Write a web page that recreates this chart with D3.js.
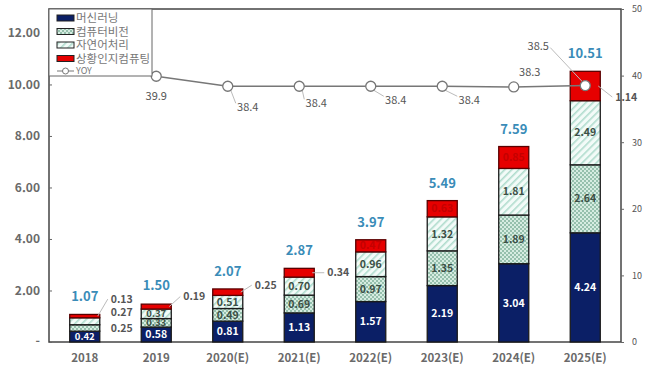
<!doctype html>
<html lang="ko">
<head>
<meta charset="UTF-8">
<title>AI market</title>
<script src="https://cdn.jsdelivr.net/npm/d3@7"></script>
<style>
	body { margin: 0; background: #fff; }
	text { font-family: "Noto Sans CJK KR", "Noto Sans", sans-serif; }
</style>
</head>
<body>
<div id="container"></div>
<script>
	var width = 649, height = 380;
	var margin = {left: 49, top: 9, right: 28, bottom: 38};
	var g_width = width - margin.left - margin.right;
	var g_height = height - margin.top - margin.bottom;

	// data
	var categories = ["2018", "2019", "2020(E)", "2021(E)", "2022(E)", "2023(E)", "2024(E)", "2025(E)"];
	var seriesNames = ["머신러닝", "컴퓨터비전", "자연어처리", "상황인지컴퓨팅"];
	var machine = [0.42, 0.58, 0.81, 1.13, 1.57, 2.19, 3.04, 4.24];
	var vision = [0.25, 0.33, 0.49, 0.69, 0.97, 1.35, 1.89, 2.64];
	var nlp = [0.27, 0.37, 0.51, 0.70, 0.96, 1.32, 1.81, 2.49];
	var context = [0.13, 0.19, 0.25, 0.34, 0.47, 0.63, 0.85, 1.14];
	var totals = [1.07, 1.50, 2.07, 2.87, 3.97, 5.49, 7.59, 10.51];
	var yoy = [null, 39.9, 38.4, 38.4, 38.4, 38.4, 38.3, 38.5];
	var leftTicks = [2, 4, 6, 8, 10, 12];
	var rightTicks = [0, 10, 20, 30, 40, 50];

	var series = [machine, vision, nlp, context];

	// labels placed outside bar: [series, category, dx, dy, leader]
	var outside = [
		[1, 0, 11, 0, false], [2, 0, 11, -9, false], [3, 0, 11, -17, true],
		[3, 1, 12, -10, true], [3, 2, 12, -7, true], [3, 3, 13, 0, true],
		[3, 7, 15, 11, true]
	];
	// yoy label offsets from point: dx, dy, leader
	var yoyOffsets = [null, [0, 20, false], [20, 21, true], [17, 17, true], [25, 14, true],
		[27, 14, true], [16, -15, false], [-47, -39, true]];

	var svg = d3.select("#container").append("svg")
		.attr("width", width).attr("height", height);

	var defs = svg.append("defs");
	var p1 = defs.append("pattern").attr("id", "pVision")
		.attr("width", 4).attr("height", 4).attr("patternUnits", "userSpaceOnUse");
	p1.append("rect").attr("width", 4).attr("height", 4).attr("fill", "#d6ece1");
	p1.append("path").attr("d", "M0,0L2,2L4,0M0,4L2,2L4,4")
		.attr("stroke", "#7aae96").attr("stroke-width", 0.7).attr("fill", "none");
	var p2 = defs.append("pattern").attr("id", "pNlp")
		.attr("width", 5).attr("height", 5).attr("patternUnits", "userSpaceOnUse")
		.attr("patternTransform", "rotate(45)");
	p2.append("rect").attr("width", 5).attr("height", 5).attr("fill", "#f3fbf8");
	p2.append("rect").attr("width", 1.6).attr("height", 5).attr("fill", "#b0dccd");

	var fills = ["#0b1f66", "url(#pVision)", "url(#pNlp)", "#e60000"];
	var labelColors = ["#ffffff", "#3c4f45", "#3c4f45", "#c40000"];

	var x = d3.scaleBand().domain(categories).range([0, g_width])
		.paddingInner(0.58).paddingOuter(0.29);
	var y = d3.scaleLinear().domain([0, 12.93]).range([g_height, 0]);
	var y2 = d3.scaleLinear().domain([0, 50]).range([g_height, 0]);

	var g = svg.append("g")
		.attr("transform", "translate(" + margin.left + "," + margin.top + ")");

	// frame
	g.append("rect").attr("width", g_width).attr("height", g_height)
		.attr("fill", "none").attr("stroke", "#444").attr("stroke-width", 1.5);

	// left axis
	var yAxis = d3.axisLeft(y).tickValues([0].concat(leftTicks)).tickSize(-3).tickPadding(9)
		.tickFormat(function (d) { return d === 0 ? "-" : d3.format(".2f")(d); });
	var ya = g.append("g").call(yAxis);
	ya.select(".domain").remove();
	ya.selectAll("line").attr("stroke", "#666");
	ya.selectAll("text").attr("font-size", 12).attr("font-weight", "bold").attr("fill", "#6a6a6a");

	// right axis
	var y2Axis = d3.axisRight(y2).tickValues(rightTicks).tickSize(3).tickPadding(8);
	var ya2 = g.append("g").attr("transform", "translate(" + g_width + ",0)").call(y2Axis);
	ya2.select(".domain").remove();
	ya2.selectAll("line").attr("stroke", "#666");
	ya2.selectAll("text").attr("font-size", 9).attr("fill", "#555");

	// x axis
	var xAxis = d3.axisBottom(x).tickSize(0).tickPadding(12);
	var xa = g.append("g").attr("transform", "translate(0," + g_height + ")").call(xAxis);
	xa.select(".domain").remove();
	xa.selectAll("text").attr("font-size", 11.5).attr("font-weight", "bold").attr("fill", "#6a6a6a");

	// stacked bars
	var rows = categories.map(function (c, i) {
		var r = {cat: c};
		seriesNames.forEach(function (s, k) { r[s] = series[k][i]; });
		return r;
	});
	var stacked = d3.stack().keys(seriesNames)(rows);

	stacked.forEach(function (layer, k) {
		g.append("g").selectAll("rect").data(layer).enter().append("rect")
			.attr("x", function (d) { return x(d.data.cat); })
			.attr("y", function (d) { return y(d[1]); })
			.attr("width", x.bandwidth())
			.attr("height", function (d) { return y(d[0]) - y(d[1]); })
			.attr("fill", fills[k])
			.attr("stroke", k === 3 ? "#5a0000" : "#1a1a1a")
			.attr("stroke-width", 1.3);
	});

	function isOutside(k, i) {
		return outside.find(function (o) { return o[0] === k && o[1] === i; });
	}

	stacked.forEach(function (layer, k) {
		layer.forEach(function (d, i) {
			var cx = x(d.data.cat) + x.bandwidth() / 2;
			var cy = (y(d[0]) + y(d[1])) / 2;
			var o = isOutside(k, i);
			if (o) {
				var bx = x(d.data.cat) + x.bandwidth();
				if (o[4]) {
					g.append("line")
						.attr("x1", bx - 2).attr("y1", cy)
						.attr("x2", bx + o[2] - 3).attr("y2", cy + o[3])
						.attr("stroke", "#bbb").attr("stroke-width", 1);
				}
				g.append("text").attr("x", bx + o[2]).attr("y", cy + o[3])
					.attr("dy", "0.35em").attr("font-size", 10.5).attr("font-weight", "bold")
					.attr("fill", "#555").text(d3.format(".2f")(series[k][i]));
			} else {
				var h = y(d[0]) - y(d[1]);
				g.append("text").attr("x", cx).attr("y", cy)
					.attr("dy", "0.35em").attr("text-anchor", "middle")
					.attr("font-size", h < 12 ? 9.5 : 10.5).attr("font-weight", "bold")
					.attr("fill", labelColors[k]).text(d3.format(".2f")(series[k][i]));
			}
		});
	});

	// totals
	g.append("g").selectAll("text").data(totals).enter().append("text")
		.attr("x", function (d, i) { return x(categories[i]) + x.bandwidth() / 2; })
		.attr("y", function (d) { return y(d) - 13; })
		.attr("text-anchor", "middle").attr("font-size", 13).attr("font-weight", "bold")
		.attr("fill", "#3a8cb8").text(function (d) { return d3.format(".2f")(d); });

	// YOY line
	var yoyPts = yoy.map(function (v, i) { return {v: v, i: i}; })
		.filter(function (d) { return d.v !== null; });
	var px = function (d) { return x(categories[d.i]) + x.bandwidth() / 2; };
	var line = d3.line().x(px).y(function (d) { return y2(d.v); });
	g.append("path").attr("d", line(yoyPts))
		.attr("fill", "none").attr("stroke", "#777").attr("stroke-width", 1.5);

	yoyPts.forEach(function (d) {
		var o = yoyOffsets[d.i];
		var X = px(d), Y = y2(d.v);
		if (o[2]) {
			var sx = o[0] > 0 ? 1 : -1;
			g.append("line")
				.attr("x1", X + sx * 3).attr("y1", Y + (o[1] > 0 ? 4 : -4))
				.attr("x2", X + o[0] - sx * 12).attr("y2", Y + o[1] + (o[1] > 0 ? -4 : 1))
				.attr("stroke", "#bbb").attr("stroke-width", 1);
		}
		g.append("text").attr("x", X + o[0]).attr("y", Y + o[1])
			.attr("dy", "0.35em").attr("text-anchor", "middle")
			.attr("font-size", 11).attr("fill", "#555").text(d.v.toFixed(1));
	});

	g.append("g").selectAll("circle").data(yoyPts).enter().append("circle")
		.attr("cx", px).attr("cy", function (d) { return y2(d.v); }).attr("r", 5)
		.attr("fill", "#fff").attr("stroke", "#777").attr("stroke-width", 1.3);

	// legend
	var lg = svg.append("g").attr("transform", "translate(49,9)");
	lg.append("rect").attr("width", 103).attr("height", 67)
		.attr("fill", "#fff").attr("stroke", "#666").attr("stroke-width", 1);
	seriesNames.forEach(function (s, k) {
		var ly = 9 + k * 13.5;
		lg.append("rect").attr("x", 8).attr("y", ly - 3).attr("width", 17).attr("height", 6)
			.attr("fill", fills[k]).attr("stroke", "#222").attr("stroke-width", 1);
		lg.append("text").attr("x", 27).attr("y", ly).attr("dy", "0.35em")
			.attr("font-size", 11.5).attr("fill", "#777").text(s);
	});
	var yl = 9 + 4 * 13.5 - 1;
	lg.append("line").attr("x1", 8).attr("x2", 25).attr("y1", yl).attr("y2", yl)
		.attr("stroke", "#777").attr("stroke-width", 1);
	lg.append("circle").attr("cx", 16.5).attr("cy", yl).attr("r", 3)
		.attr("fill", "#fff").attr("stroke", "#777");
	lg.append("text").attr("x", 27).attr("y", yl).attr("dy", "0.35em")
		.attr("font-size", 9).attr("fill", "#777").text("YOY");
</script>
</body>
</html>
